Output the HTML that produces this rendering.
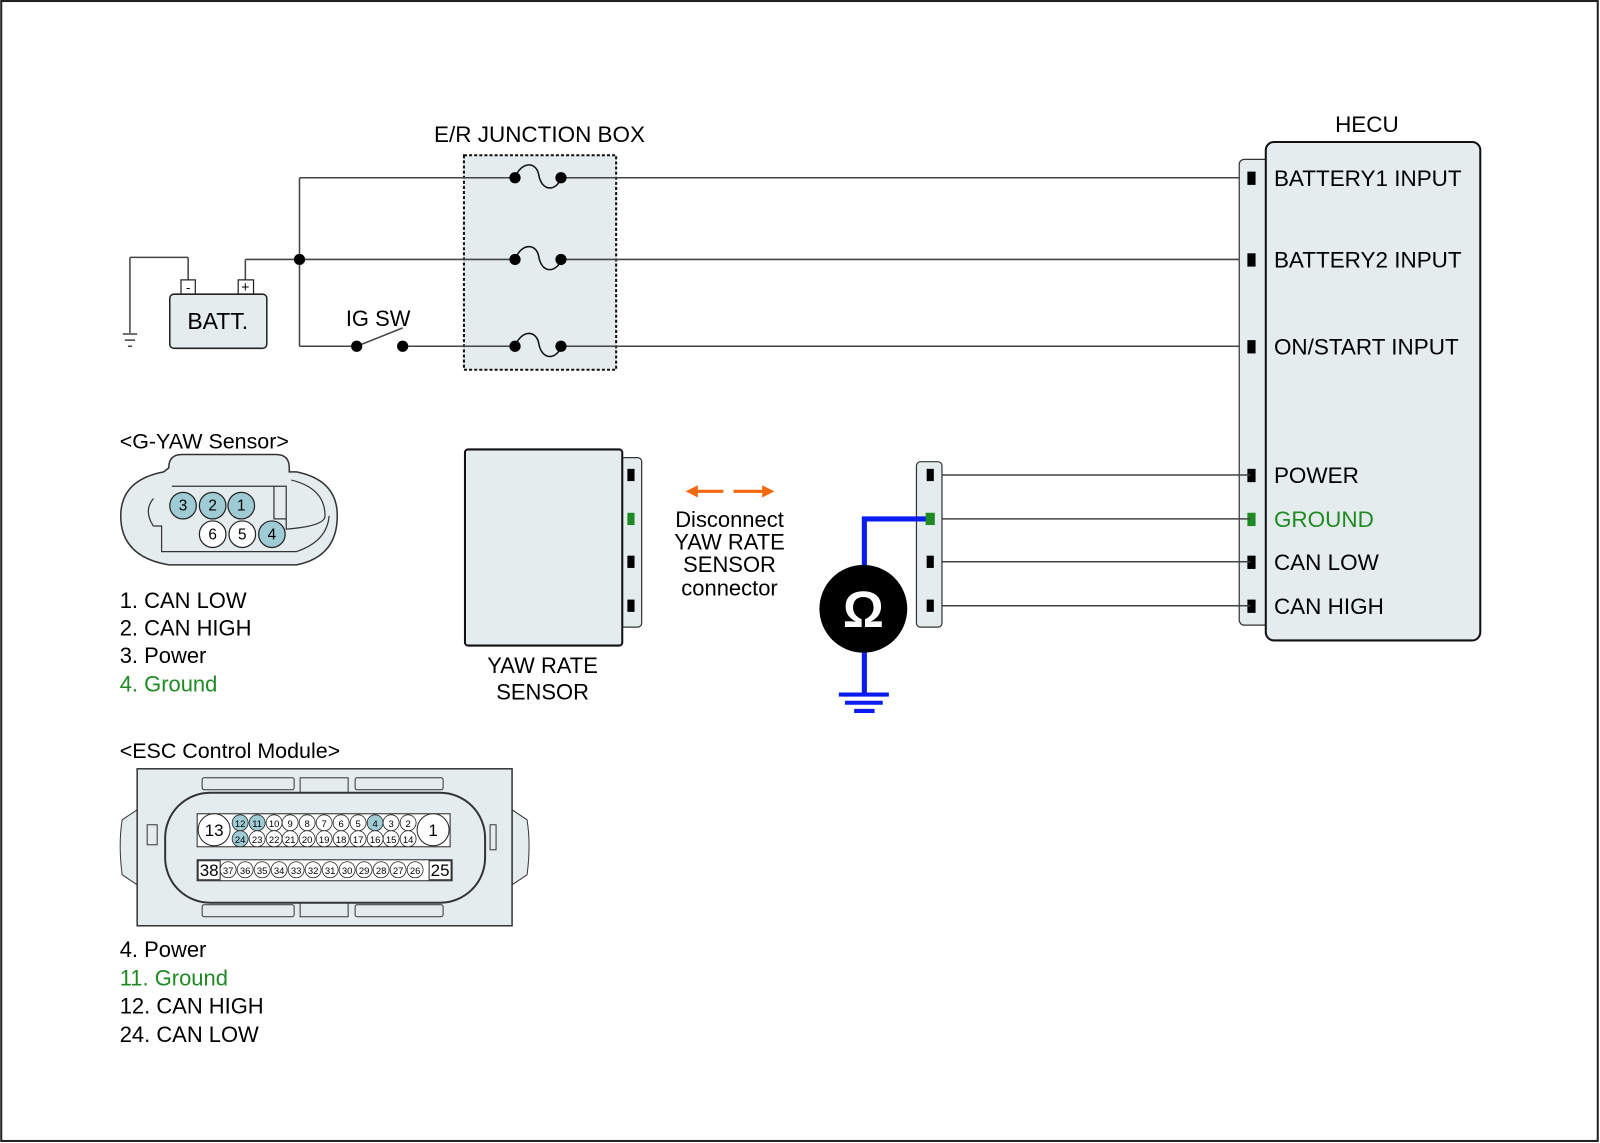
<!DOCTYPE html>
<html><head><meta charset="utf-8"><style>html,body{margin:0;padding:0;background:#fff}svg{display:block}text{font-family:"Liberation Sans",Arial,sans-serif}</style></head>
<body>
<svg width="1600" height="1143" viewBox="0 0 1566 1119" xmlns="http://www.w3.org/2000/svg">
<rect x="1" y="1" width="1563" height="1116" fill="#fff" stroke="#222" stroke-width="2"/>
<!-- junction box -->
<text x="528" y="139" font-size="22" text-anchor="middle">E/R JUNCTION BOX</text>
<rect x="454" y="152" width="149" height="210" fill="#e5ecee" stroke="#111" stroke-width="2" stroke-dasharray="3,2"/>
<g stroke="#444" stroke-width="1.5" fill="none">
<line x1="293" y1="174" x2="504" y2="174"/><line x1="549" y1="174" x2="1224" y2="174"/>
<line x1="240" y1="274" x2="240" y2="254"/><line x1="240" y1="254" x2="504" y2="254"/><line x1="549" y1="254" x2="1224" y2="254"/>
<line x1="293" y1="174" x2="293" y2="339"/><line x1="293" y1="339" x2="349" y2="339"/>
<line x1="392" y1="339" x2="504" y2="339"/><line x1="549" y1="339" x2="1224" y2="339"/>
<line x1="349" y1="339" x2="394" y2="321"/>
<line x1="184" y1="274" x2="184" y2="252"/><line x1="184" y1="252" x2="127" y2="252"/><line x1="127" y1="252" x2="127" y2="326"/>
<line x1="120" y1="327" x2="134" y2="327"/><line x1="122" y1="333" x2="132" y2="333"/><line x1="125" y1="339" x2="129" y2="339"/>
</g>
<g stroke="#111" stroke-width="1.5" fill="none">
<path d="M504 174 C510 158 524 158 527 170 C530 190 546 186 549 174"/>
<path d="M504 254 C510 238 524 238 527 250 C530 270 546 266 549 254"/>
<path d="M504 339 C510 323 524 323 527 335 C530 355 546 351 549 339"/>
</g>
<g fill="#000">
<circle cx="504" cy="174" r="5.5"/><circle cx="549" cy="174" r="5.5"/>
<circle cx="504" cy="254" r="5.5"/><circle cx="549" cy="254" r="5.5"/>
<circle cx="504" cy="339" r="5.5"/><circle cx="549" cy="339" r="5.5"/>
<circle cx="293" cy="254" r="5.5"/><circle cx="349" cy="339" r="5.5"/><circle cx="394" cy="339" r="5.5"/>
</g>
<text x="370" y="319" font-size="21.5" text-anchor="middle">IG SW</text>
<!-- battery -->
<rect x="177" y="274" width="14" height="14" fill="#fff" stroke="#222" stroke-width="1.2"/>
<rect x="233" y="274" width="15" height="14" fill="#fff" stroke="#222" stroke-width="1.2"/>
<text x="184" y="286" font-size="13" text-anchor="middle">-</text>
<text x="240" y="286" font-size="14" text-anchor="middle">+</text>
<rect x="166" y="288" width="95" height="53" rx="4" fill="#e5ecee" stroke="#222" stroke-width="1.5"/>
<text x="213" y="322" font-size="22.5" text-anchor="middle">BATT.</text>
<!-- HECU -->
<text x="1338" y="129" font-size="22" text-anchor="middle">HECU</text>
<rect x="1213" y="156" width="30" height="456" rx="5" fill="#e5ecee" stroke="#333" stroke-width="1.2"/>
<rect x="1239" y="139" width="210" height="488" rx="8" fill="#e5ecee" stroke="#111" stroke-width="2"/>
<g fill="#000">
<rect x="1221" y="168" width="8" height="13"/><rect x="1221" y="248" width="8" height="13"/><rect x="1221" y="333" width="8" height="13"/>
<rect x="1221" y="459" width="8" height="13"/><rect x="1221" y="544" width="8" height="13"/><rect x="1221" y="587" width="8" height="13"/>
</g>
<rect x="1221" y="502" width="8" height="13" fill="#1f8a24"/>
<g font-size="22">
<text x="1247" y="182">BATTERY1 INPUT</text>
<text x="1247" y="262">BATTERY2 INPUT</text>
<text x="1247" y="347">ON/START INPUT</text>
<text x="1247" y="473">POWER</text>
<text x="1247" y="516" fill="#1f8a24">GROUND</text>
<text x="1247" y="558">CAN LOW</text>
<text x="1247" y="601">CAN HIGH</text>
</g>
<!-- connector strip -->
<g stroke="#444" stroke-width="1.5">
<line x1="913" y1="465" x2="1224" y2="465"/><line x1="913" y1="508" x2="1224" y2="508"/>
<line x1="913" y1="550" x2="1224" y2="550"/><line x1="913" y1="593" x2="1224" y2="593"/>
</g>
<rect x="897" y="452" width="25" height="162" rx="4" fill="#e5ecee" stroke="#333" stroke-width="1.2"/>
<g fill="#000"><rect x="907" y="459" width="7" height="12"/><rect x="907" y="544" width="7" height="12"/><rect x="907" y="587" width="7" height="12"/></g>
<!-- ohm -->
<path d="M908 508 H846 V680" fill="none" stroke="#0a1cf0" stroke-width="5"/>
<rect x="906" y="502" width="9" height="12" fill="#1f8a24"/>
<g stroke="#0a1cf0" stroke-width="4"><line x1="821" y1="680" x2="870" y2="680"/><line x1="827" y1="688" x2="864" y2="688"/><line x1="836" y1="696" x2="856" y2="696"/></g>
<circle cx="845" cy="596" r="43" fill="#000"/>
<text x="845" y="614" font-size="50" font-weight="bold" fill="#fff" text-anchor="middle">Ω</text>
<!-- yaw rate sensor -->
<rect x="607" y="448" width="21" height="166" rx="4" fill="#e5ecee" stroke="#333" stroke-width="1.2"/>
<rect x="455" y="440" width="154" height="192" rx="3" fill="#e5ecee" stroke="#111" stroke-width="2"/>
<g fill="#000"><rect x="614" y="459" width="7" height="12"/><rect x="614" y="544" width="7" height="12"/><rect x="614" y="587" width="7" height="12"/></g>
<rect x="614" y="502" width="7" height="12" fill="#1f8a24"/>
<text x="531" y="659" font-size="21.5" text-anchor="middle">YAW RATE</text>
<text x="531" y="685" font-size="21.5" text-anchor="middle">SENSOR</text>
<g stroke="#f26a10" stroke-width="3" fill="#f26a10">
<line x1="680" y1="481" x2="708" y2="481"/><path d="M671 481 L683 475 L683 487Z" stroke="none"/>
<line x1="718" y1="481" x2="748" y2="481"/><path d="M758 481 L746 475 L746 487Z" stroke="none"/>
</g>
<g font-size="21.5" text-anchor="middle">
<text x="714" y="516">Disconnect</text><text x="714" y="538">YAW RATE</text><text x="714" y="560">SENSOR</text><text x="714" y="583">connector</text>
</g>
<!-- G-YAW -->
<text x="117" y="439" font-size="21">&lt;G-YAW Sensor&gt;</text>
<path d="M165 458 Q165 445 178 445 L270 445 Q283 445 283 458 L283 462 L290 462 Q330 470 330 505 Q330 545 290 553 L165 553 Q118 545 118 505 Q118 470 160 462 Z" fill="#e5ecee" stroke="#333" stroke-width="1.5"/>
<path d="M168 476 L280 476 L280 518 Q318 515 318 505 Q318 478 285 470" fill="none" stroke="#333" stroke-width="1.2"/>
<path d="M150 488 Q140 500 150 515 L158 515 L158 540 L290 540 Q320 530 322 505" fill="none" stroke="#333" stroke-width="1.2"/>
<path d="M268 476 V508 H280" fill="none" stroke="#333" stroke-width="1.2"/>
<g stroke="#222" stroke-width="1.2">
<circle cx="179" cy="495" r="13" fill="#9fcbd4"/><circle cx="208" cy="495" r="13" fill="#9fcbd4"/><circle cx="236" cy="495" r="13" fill="#9fcbd4"/>
<circle cx="208" cy="523" r="13" fill="#fff"/><circle cx="237" cy="523" r="13" fill="#fff"/><circle cx="266" cy="523" r="13" fill="#9fcbd4"/>
</g>
<g font-size="15" text-anchor="middle"><text x="179" y="500">3</text><text x="208" y="500">2</text><text x="236" y="500">1</text><text x="208" y="528">6</text><text x="237" y="528">5</text><text x="266" y="528">4</text></g>
<g font-size="21.5"><text x="117" y="595">1. CAN LOW</text><text x="117" y="622">2. CAN HIGH</text><text x="117" y="649">3. Power</text><text x="117" y="677" fill="#1f8a24">4. Ground</text></g>
<!-- ESC -->
<text x="117" y="742" font-size="21">&lt;ESC Control Module&gt;</text>
<g transform="scale(0.97875)">
<path d="M137 810 L122 820 Q118 845 122 875 L137 885 Z" fill="#e5ecee" stroke="#333"/>
<path d="M512 810 L527 820 Q531 845 527 875 L512 885 Z" fill="#e5ecee" stroke="#333"/>
<rect x="137" y="769" width="375" height="157" fill="#e5ecee" stroke="#333" stroke-width="1.5"/>
<rect x="202" y="778" width="92" height="12" rx="2" fill="#e5ecee" stroke="#333"/>
<rect x="355" y="778" width="88" height="12" rx="2" fill="#e5ecee" stroke="#333"/>
<rect x="300" y="778" width="48" height="22" fill="#e5ecee" stroke="#333"/>
<rect x="202" y="905" width="92" height="12" rx="2" fill="#e5ecee" stroke="#333"/>
<rect x="355" y="905" width="88" height="12" rx="2" fill="#e5ecee" stroke="#333"/>
<rect x="300" y="895" width="48" height="22" fill="#e5ecee" stroke="#333"/>
<rect x="165" y="793" width="320" height="110" rx="45" fill="#e5ecee" stroke="#333" stroke-width="2"/>
<rect x="147" y="825" width="10" height="20" fill="none" stroke="#333"/>
<rect x="490" y="825" width="6" height="25" fill="none" stroke="#333"/>
<rect x="197" y="814" width="253" height="33" fill="#fff" stroke="#222"/>
<rect x="197" y="860" width="255" height="21" fill="#fff" stroke="#222"/>
<g stroke="#222" stroke-width="1">
<circle cx="214" cy="830" r="16" fill="#fff"/><circle cx="433" cy="830" r="16" fill="#fff"/>
<rect x="198" y="861" width="22" height="19" fill="#fff"/><rect x="429" y="861" width="22" height="19" fill="#fff"/>
</g>
<g font-size="17" text-anchor="middle"><text x="214" y="836">13</text><text x="433" y="836">1</text><text x="209" y="876">38</text><text x="440" y="876">25</text></g>
<g stroke="#222" stroke-width="0.8">
<circle cx="240" cy="823" r="8" fill="#9fcbd4"/><circle cx="257" cy="823" r="8" fill="#9fcbd4"/><circle cx="274" cy="823" r="8" fill="#fff"/><circle cx="290" cy="823" r="8" fill="#fff"/><circle cx="307" cy="823" r="8" fill="#fff"/><circle cx="324" cy="823" r="8" fill="#fff"/><circle cx="341" cy="823" r="8" fill="#fff"/><circle cx="358" cy="823" r="8" fill="#fff"/><circle cx="375" cy="823" r="8" fill="#9fcbd4"/><circle cx="391" cy="823" r="8" fill="#fff"/><circle cx="408" cy="823" r="8" fill="#fff"/>
<circle cx="240" cy="839" r="8" fill="#9fcbd4"/><circle cx="257" cy="839" r="8" fill="#fff"/><circle cx="274" cy="839" r="8" fill="#fff"/><circle cx="290" cy="839" r="8" fill="#fff"/><circle cx="307" cy="839" r="8" fill="#fff"/><circle cx="324" cy="839" r="8" fill="#fff"/><circle cx="341" cy="839" r="8" fill="#fff"/><circle cx="358" cy="839" r="8" fill="#fff"/><circle cx="375" cy="839" r="8" fill="#fff"/><circle cx="391" cy="839" r="8" fill="#fff"/><circle cx="408" cy="839" r="8" fill="#fff"/>
</g>
<g font-size="9.5" text-anchor="middle">
<text x="240" y="827">12</text><text x="257" y="827">11</text><text x="274" y="827">10</text><text x="290" y="827">9</text><text x="307" y="827">8</text><text x="324" y="827">7</text><text x="341" y="827">6</text><text x="358" y="827">5</text><text x="375" y="827">4</text><text x="391" y="827">3</text><text x="408" y="827">2</text>
<text x="240" y="843">24</text><text x="257" y="843">23</text><text x="274" y="843">22</text><text x="290" y="843">21</text><text x="307" y="843">20</text><text x="324" y="843">19</text><text x="341" y="843">18</text><text x="358" y="843">17</text><text x="375" y="843">16</text><text x="391" y="843">15</text><text x="408" y="843">14</text>
</g>
<g stroke="#222" stroke-width="0.8" fill="#fff">
<circle cx="228" cy="870" r="8"/><circle cx="245" cy="870" r="8"/><circle cx="262" cy="870" r="8"/><circle cx="279" cy="870" r="8"/><circle cx="296" cy="870" r="8"/><circle cx="313" cy="870" r="8"/><circle cx="330" cy="870" r="8"/><circle cx="347" cy="870" r="8"/><circle cx="364" cy="870" r="8"/><circle cx="381" cy="870" r="8"/><circle cx="398" cy="870" r="8"/><circle cx="415" cy="870" r="8"/>
</g>
<g font-size="9.5" text-anchor="middle">
<text x="228" y="874">37</text><text x="245" y="874">36</text><text x="262" y="874">35</text><text x="279" y="874">34</text><text x="296" y="874">33</text><text x="313" y="874">32</text><text x="330" y="874">31</text><text x="347" y="874">30</text><text x="364" y="874">29</text><text x="381" y="874">28</text><text x="398" y="874">27</text><text x="415" y="874">26</text>
</g>
</g>
<g font-size="21.5"><text x="117" y="937">4. Power</text><text x="117" y="965" fill="#1f8a24">11. Ground</text><text x="117" y="992">12. CAN HIGH</text><text x="117" y="1020">24. CAN LOW</text></g>
</svg>
</body></html>
